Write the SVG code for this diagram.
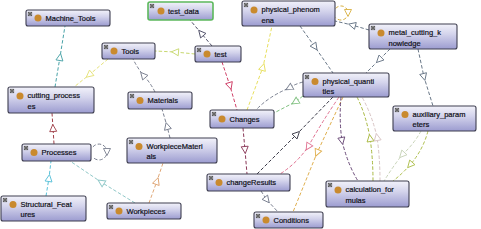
<svg xmlns="http://www.w3.org/2000/svg" xmlns:xlink="http://www.w3.org/1999/xlink" width="481" height="229" viewBox="0 0 481 229">
<defs>
<linearGradient id="bg" x1="0" y1="0" x2="0" y2="1">
<stop offset="0" stop-color="#f2f2fa"/>
<stop offset="0.4" stop-color="#d4d4ec"/>
<stop offset="1" stop-color="#9c9cd0"/>
</linearGradient>
<marker id="ar" markerUnits="userSpaceOnUse" markerWidth="9" markerHeight="9" refX="3.5" refY="3.5" orient="auto" viewBox="-1 -1 9 9">
<path d="M0,0 L7,3.5 L0,7 Z" fill="#fff" stroke="context-stroke" stroke-width="0.9"/>
</marker>
<symbol id="plus" viewBox="0 0 5 5" width="4" height="4" overflow="visible">
<rect x="0.3" y="0.3" width="4.4" height="4.4" fill="#fff" stroke="#333" stroke-width="0.8"/>
<path d="M1.2,2.5 H3.8 M2.5,1.2 V3.8" stroke="#111" stroke-width="1"/>
</symbol>
</defs>
<style>
.box{fill:url(#bg);stroke:#3e3e50;stroke-width:1.1}
.sel{stroke:#5cb85c;stroke-width:1.6}
.dot{fill:#c98a2e}
.t{font-family:"Liberation Sans",Arial,sans-serif;font-size:7.5px;fill:#101018;stroke:#101018;stroke-width:0.2}
.e{fill:none;stroke-width:1;stroke-dasharray:3.5 2;marker-mid:url(#ar)}
</style>
<rect width="481" height="229" fill="#fff"/>
<g id="connectors">
<path class="e" stroke="#4aa3a8" d="M55,87 L60,57 L65,26"/>
<path class="e" stroke="#e6e27a" d="M108,59 L89,75 L74,87"/>
<path class="e" stroke="#c8d870" d="M195,54 L175,52 L155,51"/>
<path class="e" stroke="#7a8090" d="M155,92 Q150,82 143,75 Q137,67 133,59"/>
<path class="e" stroke="#7a8090" d="M170,138 L167,126 L162,109"/>
<path class="e" stroke="#a0404a" d="M54,144 L53,128 L52,113"/>
<path class="e" stroke="#58c0d8" d="M46,196 L49,178 L51,161"/>
<path class="e" stroke="#90c8c8" d="M135,203 L101,182 L70,161"/>
<path class="e" stroke="#e0a878" d="M149,203 L157,181 L163,163"/>
<path class="e" stroke="#505068" d="M212,46 L201,33 L190,20"/>
<path class="e" stroke="#d04068" d="M222,62 L230,86 L237,110"/>
<path class="e" stroke="#e8e060" d="M247,110 L263,67 L272,26"/>
<path class="e" stroke="#7a8090" d="M303,82 Q295,84 289,88 Q268,97 256,110"/>
<path class="e" stroke="#80c080" d="M303,96 L295,102 L274,113"/>
<path class="e" stroke="#8a3858" d="M243,128 L245,150 L247,174"/>
<path class="e" stroke="#3a3a48" d="M257,174 L297,134 L333,97"/>
<path class="e" stroke="#e07090" d="M339,97 Q320,125 308,147 Q296,164 280,174"/>
<path class="e" stroke="#e0b050" d="M343,97 L317,153 L293,212"/>
<path class="e" stroke="#6a4a78" d="M341,97 Q339,120 342,141 Q348,165 358,181"/>
<path class="e" stroke="#a8b840" d="M373,181 Q373,158 370,138 Q366,115 357,97"/>
<path class="e" stroke="#d8c4c4" d="M380,181 Q380,158 377,137 Q372,115 362,97"/>
<path class="e" stroke="#b0c050" d="M428,131 Q423,150 410,165 Q402,174 393,181"/>
<path class="e" stroke="#c8d4b8" d="M421,131 Q414,144 402,155 Q392,168 384,181"/>
<path class="e" stroke="#6a7888" d="M390,49 L379,60 L366,73"/>
<path class="e" stroke="#6a7888" d="M418,49 L424,77 L433,106"/>
<path class="e" stroke="#6a7888" d="M369,30 L352,25 L335,21"/>
<path class="e" stroke="#6a7888" d="M300,26 L315,47 L333,73"/>
<path class="e" stroke="#7a8090" d="M261,191 L267,200 L278,212"/>
<path class="e" stroke="#d8b040" d="M335.6,8.5 A7,7 0 0,1 348,13 A7,7 0 0,1 335.6,17.5"/>
<path class="e" stroke="#7a8090" d="M92.9,146.9 A8,8 0 0,1 107,152 A8,8 0 0,1 92.9,157.1"/>
</g>
<g id="Machine_Tools"><rect class="box" x="26" y="10" width="84" height="16" rx="2"/><use href="#plus" x="28" y="12"/><circle class="dot" cx="38" cy="18" r="3.5"/><text class="t" x="45.5" y="20.7">Machine_Tools</text></g>
<g id="test_data"><rect class="box sel" x="148" y="2" width="65" height="18" rx="2"/><use href="#plus" x="150" y="4"/><circle class="dot" cx="161" cy="11" r="3.5"/><text class="t" x="168" y="13.7">test_data</text></g>
<g id="physical_phenomena"><rect class="box" x="242" y="1" width="93" height="25" rx="2"/><use href="#plus" x="244" y="3"/><circle class="dot" cx="254" cy="10" r="3.5"/><text class="t" x="261.5" y="12.2">physical_phenom</text><text class="t" x="261.5" y="22.5">ena</text></g>
<g id="metal_cutting_knowledge"><rect class="box" x="369" y="24" width="88" height="25" rx="2"/><use href="#plus" x="371" y="26"/><circle class="dot" cx="381" cy="33" r="3.5"/><text class="t" x="388.5" y="35.2">metal_cutting_k</text><text class="t" x="388.5" y="45.5">nowledge</text></g>
<g id="Tools"><rect class="box" x="102" y="43" width="53" height="16" rx="2"/><use href="#plus" x="104" y="45"/><circle class="dot" cx="114" cy="51" r="3.5"/><text class="t" x="121.5" y="53.7">Tools</text></g>
<g id="test"><rect class="box" x="195" y="46" width="46" height="16" rx="2"/><use href="#plus" x="197" y="48"/><circle class="dot" cx="207" cy="54" r="3.5"/><text class="t" x="214.5" y="56.7">test</text></g>
<g id="cutting_processes"><rect class="box" x="8" y="87" width="86" height="26" rx="2"/><use href="#plus" x="10" y="89"/><circle class="dot" cx="20" cy="96" r="3.5"/><text class="t" x="27.5" y="98.2">cutting_process</text><text class="t" x="27.5" y="108.8">es</text></g>
<g id="Materials"><rect class="box" x="128" y="92" width="64" height="17" rx="2"/><use href="#plus" x="130" y="94"/><circle class="dot" cx="140" cy="100.5" r="3.5"/><text class="t" x="147.5" y="103.2">Materials</text></g>
<g id="physical_quantities"><rect class="box" x="303" y="73" width="86" height="24" rx="2"/><use href="#plus" x="305" y="75"/><circle class="dot" cx="315" cy="81.5" r="3.5"/><text class="t" x="322.5" y="83.7">physical_quanti</text><text class="t" x="322.5" y="93.5">ties</text></g>
<g id="Changes"><rect class="box" x="210" y="110" width="64" height="18" rx="2"/><use href="#plus" x="212" y="112"/><circle class="dot" cx="222" cy="119" r="3.5"/><text class="t" x="229.5" y="121.7">Changes</text></g>
<g id="auxiliary_parameters"><rect class="box" x="393" y="106" width="83" height="25" rx="2"/><use href="#plus" x="395" y="108"/><circle class="dot" cx="405" cy="114.5" r="3.5"/><text class="t" x="412.5" y="116.7">auxiliary_param</text><text class="t" x="412.5" y="127">eters</text></g>
<g id="Processes"><rect class="box" x="22" y="144" width="69" height="17" rx="2"/><use href="#plus" x="24" y="146"/><circle class="dot" cx="34" cy="152.5" r="3.5"/><text class="t" x="41.5" y="155.2">Processes</text></g>
<g id="WorkpieceMaterials"><rect class="box" x="127" y="138" width="90" height="25" rx="2"/><use href="#plus" x="129" y="140"/><circle class="dot" cx="139" cy="146.5" r="3.5"/><text class="t" x="146.5" y="148.7">WorkpieceMateri</text><text class="t" x="146.5" y="159">als</text></g>
<g id="changeResults"><rect class="box" x="207" y="174" width="83" height="17" rx="2"/><use href="#plus" x="209" y="176"/><circle class="dot" cx="219" cy="182.5" r="3.5"/><text class="t" x="226.5" y="185.2">changeResults</text></g>
<g id="calculation_formulas"><rect class="box" x="326" y="181" width="83" height="26" rx="2"/><use href="#plus" x="328" y="183"/><circle class="dot" cx="338" cy="190" r="3.5"/><text class="t" x="345.5" y="192.2">calculation_for</text><text class="t" x="345.5" y="202.8">mulas</text></g>
<g id="Structural_Features"><rect class="box" x="1" y="196" width="85" height="25" rx="2"/><use href="#plus" x="3" y="198"/><circle class="dot" cx="13" cy="204.5" r="3.5"/><text class="t" x="20.5" y="206.7">Structural_Feat</text><text class="t" x="20.5" y="217">ures</text></g>
<g id="Workpieces"><rect class="box" x="107" y="203" width="74" height="16" rx="2"/><use href="#plus" x="109" y="205"/><circle class="dot" cx="119" cy="211" r="3.5"/><text class="t" x="126.5" y="213.7">Workpieces</text></g>
<g id="Conditions"><rect class="box" x="254" y="212" width="69" height="16" rx="2"/><use href="#plus" x="256" y="214"/><circle class="dot" cx="266" cy="220" r="3.5"/><text class="t" x="273.5" y="222.7">Conditions</text></g>
</svg>
